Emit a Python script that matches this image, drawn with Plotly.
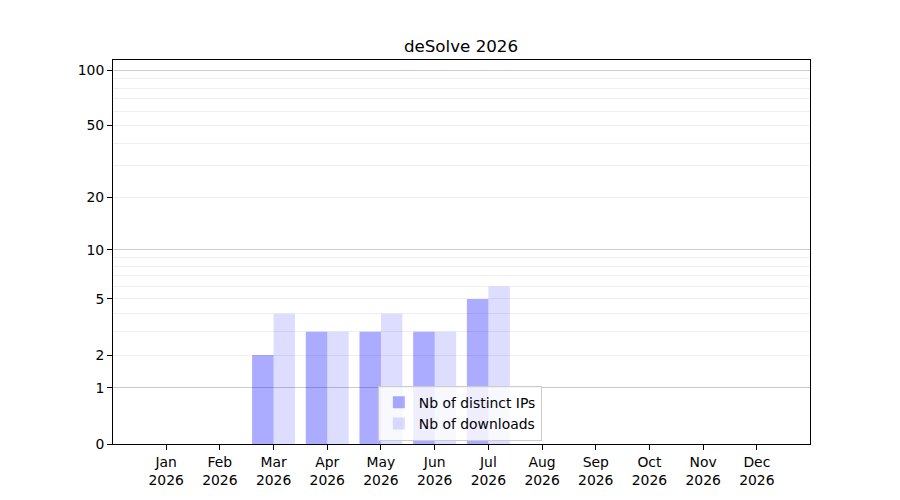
import plotly.graph_objects as go

# data
year = 2026
months = ['Jan', 'Feb', 'Mar', 'Apr', 'May', 'Jun', 'Jul', 'Aug', 'Sep', 'Oct', 'Nov', 'Dec']
distinct_ips = [0, 0, 2, 3, 3, 3, 5, 0, 0, 0, 0, 0]
downloads = [0, 0, 4, 3, 4, 3, 6, 0, 0, 0, 0, 0]

y_ticks = [0, 1, 2, 5, 10, 20, 50, 100]
y_minor = [2, 3, 4, 5, 6, 7, 8, 9, 20, 30, 40, 50, 60, 70, 80, 90]
y_major_grid = [1, 10, 100]

# the y scale is log(1 + y): plot on a log axis with the values shifted by one
def shift(vals):
    return [v + 1 for v in vals]

x_labels = ['%s<br>%d' % (m, year) for m in months]
font = 'DejaVu Sans, Liberation Sans, sans-serif'

fig = go.Figure()
fig.add_trace(go.Bar(x=x_labels, y=shift(distinct_ips), name='Nb of distinct IPs',
                     marker=dict(color='rgba(0,0,255,0.33)', line_width=0)))
fig.add_trace(go.Bar(x=x_labels, y=shift(downloads), name='Nb of downloads',
                     marker=dict(color='rgba(0,0,255,0.135)', line_width=0)))
# invisible helper so the overlay axis carrying the darker grid gets drawn
fig.add_trace(go.Scatter(x=[x_labels[0]], y=[1], yaxis='y2', mode='markers',
                         marker=dict(opacity=0), showlegend=False, hoverinfo='skip'))

y_range = [0, 2.059]

fig.update_layout(
    width=900, height=500,
    margin=dict(l=105, r=98, t=52, b=64),
    paper_bgcolor='white', plot_bgcolor='white',
    font=dict(family=font, size=13.9, color='black'),
    title=dict(text='deSolve 2026', x=453 / 900, xanchor='center',
               y=1 - 38 / 500, yanchor='middle', font=dict(size=16.7)),
    barmode='group', bargap=0.2, bargroupgap=0,
    showlegend=True,
    legend=dict(x=0.38, y=0.08, xanchor='left', yanchor='middle',
                bgcolor='rgba(255,255,255,0.8)', bordercolor='#cccccc', borderwidth=1,
                font=dict(size=13.9), tracegroupgap=2),
    xaxis=dict(range=[-0.99, 11.99], showline=True, linecolor='black', linewidth=1,
               mirror=True, ticks='outside', ticklen=5, tickcolor='black',
               showgrid=False, zeroline=False, tickfont=dict(size=13.9)),
    yaxis=dict(type='log', range=y_range, showline=True, linecolor='black', linewidth=1,
               mirror=True, ticks='outside', ticklen=5, tickcolor='black',
               tickvals=shift(y_ticks), ticktext=[str(t) for t in y_ticks],
               showgrid=False, zeroline=False, tickfont=dict(size=13.9),
               minor=dict(tickmode='array', tickvals=shift(y_minor), ticks='',
                          showgrid=True, gridcolor='#efefef', gridwidth=1)),
    yaxis2=dict(type='log', range=y_range, overlaying='y', side='left',
                tickvals=shift(y_major_grid), showticklabels=False, ticks='',
                showgrid=True, gridcolor='#cbcbcb', gridwidth=1, zeroline=False,
                showline=False),
)

fig.write_html("out.html")
